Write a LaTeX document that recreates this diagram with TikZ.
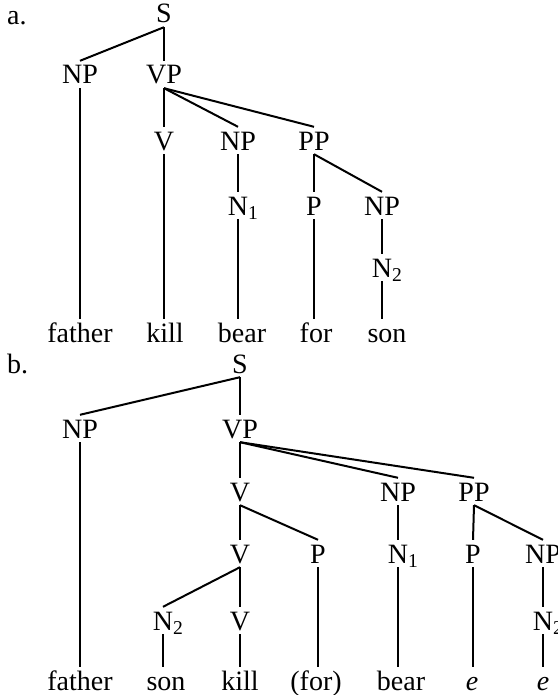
\documentclass[tikz,border=0pt]{standalone}
\usepackage{fontspec}
\setmainfont{Liberation Serif}
\begin{document}
\begin{tikzpicture}[x=1pt,y=-1pt,
  lab/.style={anchor=base, inner xsep=0pt, inner ysep=4pt,
    text height=19pt, text depth=0pt, font=\fontsize{28}{30}\selectfont},
  tag/.style={anchor=base west, inner sep=0pt, font=\fontsize{28}{30}\selectfont},
  branch/.style={line width=2pt}]
\useasboundingbox (0,0) rectangle (557,695);

% ---------- tree a ----------
\node[tag] (alab) at (7,25) {a.};
\node[lab] (aS)   at (164,23)  {S};
\node[lab] (aNP)  at (80,84)   {NP};
\node[lab] (aVP)  at (164,84)  {VP};
\node[lab] (aV)   at (164,150) {V};
\node[lab] (aNPo) at (238,150) {NP};
\node[lab] (aPP)  at (314,150) {PP};
\node[lab] (aNa)  at (238,215) {N\rlap{\textsubscript{1}}};
\node[lab] (aP)   at (314,215) {P};
\node[lab] (aNPp) at (382,215) {NP};
\node[lab] (aNb)  at (382,277) {N\rlap{\textsubscript{2}}};
\node[lab] (aw1)  at (80,342)  {father};
\node[lab] (aw2)  at (165,342) {kill};
\node[lab] (aw3)  at (242,342) {bear};
\node[lab] (aw4)  at (316,342) {for};
\node[lab] (aw5)  at (387,342) {son};

\draw[branch] (aS.south) -- (aNP.north);
\draw[branch] (aS.south) -- (aVP.north);
\draw[branch] (aVP.south) -- (aV.north);
\draw[branch] (aVP.south) -- (aNPo.north);
\draw[branch] (aVP.south) -- (aPP.north);
\draw[branch] (aNPo.south) -- (aNa.north);
\draw[branch] (aPP.south) -- (aP.north);
\draw[branch] (aPP.south) -- (aNPp.north);
\draw[branch] (aNPp.south) -- (aNb.north);
\draw[branch] (aNP.south) -- (aNP.south |- aw1.north);
\draw[branch] (aV.south) -- (aV.south |- aw2.north);
\draw[branch] (aNa.south) -- (aNa.south |- aw3.north);
\draw[branch] (aP.south) -- (aP.south |- aw4.north);
\draw[branch] (aNb.south) -- (aNb.south |- aw5.north);

% ---------- tree b ----------
\node[tag] (blab) at (7,373) {b.};
\node[lab] (bS)   at (240,373) {S};
\node[lab] (bNP)  at (80,438)  {NP};
\node[lab] (bVP)  at (240,438) {VP};
\node[lab] (bV)   at (240,501) {V};
\node[lab] (bNPo) at (398,501) {NP};
\node[lab] (bPP)  at (474,501) {PP};
\node[lab] (bVb)  at (240,563) {V};
\node[lab] (bP)   at (318,563) {P};
\node[lab] (bNa)  at (398,563) {N\rlap{\textsubscript{1}}};
\node[lab] (bPb)  at (473,563) {P};
\node[lab] (bNPp) at (543,563) {NP};
\node[lab] (bNb)  at (163,630) {N\rlap{\textsubscript{2}}};
\node[lab] (bVc)  at (240,630) {V};
\node[lab] (bNc)  at (543,630) {N\rlap{\textsubscript{2}}};
\node[lab] (bw1)  at (80,690)  {father};
\node[lab] (bw2)  at (166,690) {son};
\node[lab] (bw3)  at (240,690) {kill};
\node[lab] (bw4)  at (316,690) {(for)};
\node[lab] (bw5)  at (401,690) {bear};
\node[lab] (bw6)  at (472,690) {\textit{e}};
\node[lab] (bw7)  at (543,690) {\textit{e}};

\draw[branch] (bS.south) -- (bNP.north);
\draw[branch] (bS.south) -- (bVP.north);
\draw[branch] (bVP.south) -- (bV.north);
\draw[branch] (bVP.south) -- (bNPo.north);
\draw[branch] (bVP.south) -- (bPP.north);
\draw[branch] (bV.south) -- (bVb.north);
\draw[branch] (bV.south) -- (bP.north);
\draw[branch] (bVb.south) -- (bNb.north);
\draw[branch] (bVb.south) -- (bVc.north);
\draw[branch] (bNPo.south) -- (bNa.north);
\draw[branch] (bPP.south) -- (bPb.north);
\draw[branch] (bPP.south) -- (bNPp.north);
\draw[branch] (bNPp.south) -- (bNc.north);
\draw[branch] (bNP.south) -- (bNP.south |- bw1.north);
\draw[branch] (bNb.south) -- (bNb.south |- bw2.north);
\draw[branch] (bVc.south) -- (bVc.south |- bw3.north);
\draw[branch] (bP.south) -- (bP.south |- bw4.north);
\draw[branch] (bNa.south) -- (bNa.south |- bw5.north);
\draw[branch] (bPb.south) -- (bPb.south |- bw6.north);
\draw[branch] (bNc.south) -- (bNc.south |- bw7.north);
\end{tikzpicture}
\end{document}
